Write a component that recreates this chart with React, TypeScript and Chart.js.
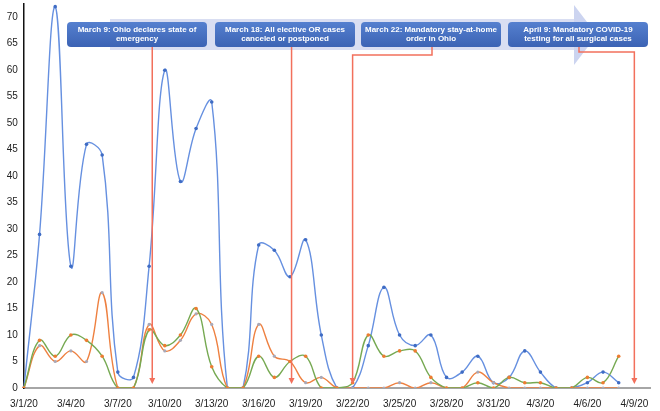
import React, { useEffect, useRef } from 'react';
import { Chart, registerables } from 'chart.js';

Chart.register(...registerables);

// Categories: 3/1/20 .. 4/10/20
const dateLabels: string[] = [
  '3/1/20', '3/2/20', '3/3/20', '3/4/20', '3/5/20', '3/6/20', '3/7/20', '3/8/20', '3/9/20', '3/10/20',
  '3/11/20', '3/12/20', '3/13/20', '3/14/20', '3/15/20', '3/16/20', '3/17/20', '3/18/20', '3/19/20', '3/20/20',
  '3/21/20', '3/22/20', '3/23/20', '3/24/20', '3/25/20', '3/26/20', '3/27/20', '3/28/20', '3/29/20', '3/30/20',
  '3/31/20', '4/1/20', '4/2/20', '4/3/20', '4/4/20', '4/5/20', '4/6/20', '4/7/20', '4/8/20', '4/9/20', '4/10/20',
];

const blueSeries: number[] = [
  0, 29, 72, 23, 46, 44, 3, 2, 23, 60,
  39, 49, 54, 0, 0, 27, 26, 21, 28, 10,
  0, 0, 8, 19, 10, 8, 10, 2, 3, 6,
  1, 2, 7, 3, 0, 0, 1, 3, 1,
];

const orangeSeries: number[] = [
  0, 8, 5, 7, 5, 18, 0, 0, 12, 7,
  9, 14, 12, 0, 0, 12, 6, 5, 1, 2,
  0, 0, 0, 0, 1, 0, 1, 0, 0, 3,
  1, 0, 0, 0, 0, 0, 0, 0, 0,
];

const greenSeries: number[] = [
  0, 9, 6, 10, 9, 6, 0, 0, 11, 8,
  10, 15, 4, 0, 0, 6, 2, 5, 6, 0,
  0, 1, 10, 6, 7, 7, 2, 0, 0, 1,
  0, 2, 1, 1, 0, 0, 2, 1, 6,
];

const yTickStep = 5;
const yMax = 72.5;

const eventDates: string[] = ['3/9/20', '3/18/20', '3/22/20', '4/9/20'];
const eventTexts: string[][] = [
  ['March 9: Ohio declares state of', 'emergency'],
  ['March 18: All elective OR cases', 'canceled or postponed'],
  ['March 22: Mandatory stay-at-home', 'order in Ohio'],
  ['April 9: Mandatory COVID-19', 'testing for all surgical cases'],
];

const FONT = '"Liberation Sans", Arial, Helvetica, sans-serif';

const eventsPlugin = {
  id: 'events',
  afterDatasetsDraw(chart: any) {
    const ctx: CanvasRenderingContext2D = chart.ctx;
    const xs = chart.scales.x;
    const base = chart.scales.y.getPixelForValue(0);
    ctx.save();

    // timeline band with arrow
    ctx.fillStyle = '#d9def2';
    ctx.fillRect(110, 19, 464, 31);
    ctx.beginPath();
    ctx.moveTo(574, 5);
    ctx.lineTo(597, 35);
    ctx.lineTo(574, 65);
    ctx.closePath();
    ctx.fillStyle = '#ccd4f0';
    ctx.fill();

    const boxLefts = [67, 215, 361, 508];
    const boxW = 140;
    const boxTop = 22;
    const boxH = 25;
    const nudges = [0.2, 0.1, 0, 0];
    const starts = [null, null, { x: 432, y: 55 }, { x: 579, y: 52 }];

    // connectors
    ctx.strokeStyle = '#f2705c';
    ctx.fillStyle = '#f2705c';
    ctx.lineWidth = 1.5;
    eventDates.forEach((d, i) => {
      const idx = dateLabels.indexOf(d);
      const px = xs.getPixelForValue(idx + nudges[i]);
      const tip = base - 4;
      ctx.beginPath();
      const s = starts[i];
      if (s) {
        ctx.moveTo(s.x, boxTop + boxH);
        ctx.lineTo(s.x, s.y);
        ctx.lineTo(px, s.y);
        ctx.lineTo(px, tip - 5);
      } else {
        ctx.moveTo(px, boxTop + boxH);
        ctx.lineTo(px, tip - 5);
      }
      ctx.stroke();
      ctx.beginPath();
      ctx.moveTo(px - 3, tip - 6);
      ctx.lineTo(px + 3, tip - 6);
      ctx.lineTo(px, tip);
      ctx.closePath();
      ctx.fill();
    });

    // boxes
    eventTexts.forEach((lines, i) => {
      const l = boxLefts[i];
      const g = ctx.createLinearGradient(0, boxTop, 0, boxTop + boxH);
      g.addColorStop(0, '#5580cf');
      g.addColorStop(1, '#3c63b4');
      ctx.fillStyle = g;
      ctx.beginPath();
      (ctx as any).roundRect(l, boxTop, boxW, boxH, 4);
      ctx.fill();
      ctx.fillStyle = '#ffffff';
      ctx.font = `bold 8px ${FONT}`;
      ctx.textAlign = 'center';
      ctx.textBaseline = 'middle';
      lines.forEach((t, j) => {
        ctx.fillText(t, l + boxW / 2, boxTop + 8 + j * 9);
      });
    });

    ctx.restore();
  },
};

export default function App() {
  const canvasRef = useRef<HTMLCanvasElement | null>(null);

  useEffect(() => {
    document.body.style.margin = '0';
    const canvas = canvasRef.current;
    if (!canvas) return;
    const chart = new Chart(canvas, {
      type: 'line',
      data: {
        labels: dateLabels,
        datasets: [
          {
            label: 'Series 3',
            data: greenSeries,
            borderColor: '#76a952',
            backgroundColor: '#ed7d31',
            pointBackgroundColor: '#ed7d31',
            pointBorderWidth: 0,
            pointRadius: 1.8,
            borderWidth: 1.4,
            tension: 0.4,
          },
          {
            label: 'Series 2',
            data: orangeSeries,
            borderColor: '#ee8040',
            backgroundColor: '#a9a9b8',
            pointBackgroundColor: '#a9a9b8',
            pointBorderWidth: 0,
            pointRadius: 1.6,
            borderWidth: 1.4,
            tension: 0.4,
          },
          {
            label: 'Series 1',
            data: blueSeries,
            borderColor: '#6690e0',
            backgroundColor: '#3f6cc4',
            pointBackgroundColor: '#3f6cc4',
            pointBorderWidth: 0,
            pointRadius: 1.8,
            borderWidth: 1.4,
            tension: 0.4,
          },
        ],
      },
      options: {
        animation: false,
        responsive: false,
        maintainAspectRatio: false,
        layout: { padding: { top: 3, right: 6, left: 0, bottom: 0 } },
        plugins: {
          legend: { display: false },
          tooltip: { enabled: false },
        },
        scales: {
          x: {
            offset: false,
            grid: { display: false, drawTicks: false },
            border: { display: true, color: '#a6a6a6', width: 2 },
            ticks: {
              autoSkip: false,
              maxRotation: 0,
              minRotation: 0,
              padding: 10,
              color: '#222',
              font: { family: FONT, size: 10 },
              callback: (_v: any, i: number) => (i % 3 === 0 ? dateLabels[i] : ''),
            },
            afterFit: (s: any) => { s.height = 23; },
          },
          y: {
            min: 0,
            max: yMax,
            grid: { display: false, drawTicks: false },
            border: { display: true, color: '#111', width: 1.5 },
            ticks: {
              stepSize: yTickStep,
              padding: 6,
              color: '#222',
              font: { family: FONT, size: 10 },
            },
            afterBuildTicks: (s: any) => {
              s.ticks = s.ticks.filter((t: any) => t.value % yTickStep === 0);
            },
            afterFit: (s: any) => {
              s.width = 22;
              s.paddingTop = 0;
              s.paddingBottom = 0;
            },
          },
        },
      },
      plugins: [eventsPlugin],
    });
    return () => chart.destroy();
  }, []);

  return (
    <div style={{ width: 660, height: 411 }}>
      <canvas ref={canvasRef} width={660} height={411} style={{ display: 'block' }} />
    </div>
  );
}
